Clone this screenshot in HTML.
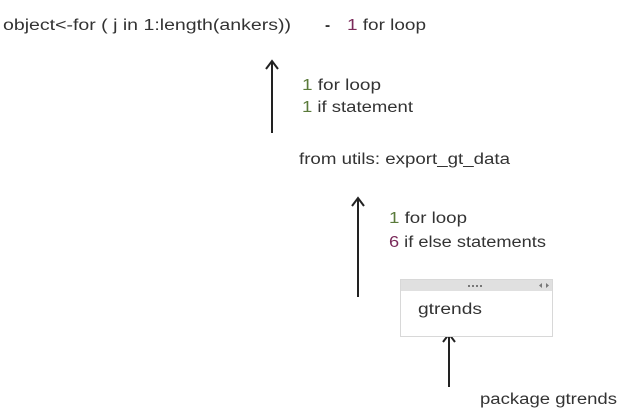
<!DOCTYPE html>
<html><head><style>
html,body{margin:0;padding:0;background:#fff;width:623px;height:413px;overflow:hidden}
svg{display:block}
text{font-family:"Liberation Sans",sans-serif;font-size:15.5px;fill:#333}
.n{fill:#5a7a3a}
.p{fill:#7a2a5a}
</style></head><body>
<svg width="623" height="413" viewBox="0 0 623 413">
<defs><marker id="a" markerWidth="12" markerHeight="12" refX="6" refY="1" orient="auto" markerUnits="userSpaceOnUse">
</marker></defs>
<text x="3" y="30" textLength="288" lengthAdjust="spacingAndGlyphs">object&lt;-for ( j in 1:length(ankers))</text>
<text x="325" y="30" font-weight="bold">-</text>
<text x="347" y="30" textLength="79" lengthAdjust="spacingAndGlyphs"><tspan class="p">1</tspan> for loop</text>

<g stroke="#222" stroke-width="2" fill="none">
<line x1="272" y1="61" x2="272" y2="133"/>
<polyline points="266,69 272,61 278,69"/>
<line x1="358" y1="198" x2="358" y2="297"/>
<polyline points="352,206 358,198 364,206"/>
<line x1="449" y1="334" x2="449" y2="387"/>
<polyline points="443,342 449,334 455,342"/>
</g>

<text x="302" y="90" textLength="79" lengthAdjust="spacingAndGlyphs"><tspan class="n">1</tspan> for loop</text>
<text x="302" y="112" textLength="111" lengthAdjust="spacingAndGlyphs"><tspan class="n">1</tspan> if statement</text>
<text x="299" y="164" textLength="211" lengthAdjust="spacingAndGlyphs">from utils: export_gt_data</text>
<text x="389" y="223" textLength="78" lengthAdjust="spacingAndGlyphs"><tspan class="n">1</tspan> for loop</text>
<text x="389" y="247" textLength="157" lengthAdjust="spacingAndGlyphs"><tspan class="p">6</tspan> if else statements</text>

<rect x="400.5" y="279.5" width="152" height="57" fill="#fff" stroke="#d8d8d8"/>
<rect x="401" y="280" width="151" height="11" fill="#e0e0e0"/>
<g fill="#777">
<rect x="468" y="285" width="2" height="2"/><rect x="472" y="285" width="2" height="2"/>
<rect x="476" y="285" width="2" height="2"/><rect x="480" y="285" width="2" height="2"/>
<polygon points="539,285.5 542,283 542,288"/><polygon points="549,285.5 546,283 546,288"/>
</g>
<text x="418" y="314" textLength="64" lengthAdjust="spacingAndGlyphs">gtrends</text>
<text x="480" y="404" textLength="137" lengthAdjust="spacingAndGlyphs">package gtrends</text>
</svg>
</body></html>
